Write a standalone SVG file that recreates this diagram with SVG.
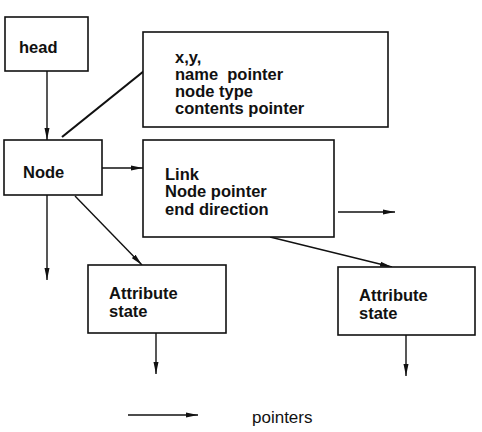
<svg xmlns="http://www.w3.org/2000/svg" width="482" height="432" viewBox="0 0 482 432">
<style>
.box{fill:#fff;stroke:#111;stroke-width:1.6}
.t{font-family:"Liberation Sans",Arial,sans-serif;font-size:16.5px;font-weight:bold;fill:#111}
.r{font-family:"Liberation Sans",Arial,sans-serif;font-size:17px;fill:#111}
.c{stroke:#111;stroke-width:1.4;fill:none}
.a{marker-end:url(#ah)}
</style>
<defs>
<marker id="ah" viewBox="0 0 12 6" refX="12" refY="3" markerWidth="12" markerHeight="6" markerUnits="userSpaceOnUse" orient="auto">
<path d="M0,0.5 L12,3 L0,5.5 Z" fill="#111"/>
</marker>
</defs>
<rect width="482" height="432" fill="#fff"/>
<g id="connectors">
<line class="c a" x1="47" y1="71" x2="47" y2="140"/>
<line class="c" x1="62" y1="137" x2="144" y2="71" style="stroke-width:2.2"/>
<line class="c a" x1="102" y1="168" x2="143" y2="168"/>
<line class="c a" x1="338" y1="212" x2="395" y2="212"/>
<line class="c a" x1="47" y1="195" x2="47" y2="280"/>
<line class="c a" x1="75" y1="196" x2="142" y2="265"/>
<line class="c a" x1="270" y1="237" x2="392" y2="267"/>
<line class="c a" x1="156" y1="333" x2="156" y2="374"/>
<line class="c a" x1="406" y1="335" x2="406" y2="376"/>
<line class="c a" x1="128" y1="415" x2="198" y2="415"/>
</g>
<g id="head">
<rect class="box" x="5" y="17" width="83" height="54"/>
<text class="t" x="19" y="53">head</text>
</g>
<g id="node">
<rect class="box" x="4" y="140" width="98" height="55"/>
<text class="t" x="23" y="178">Node</text>
</g>
<g id="fields">
<rect class="box" x="143" y="32" width="245" height="95"/>
<text class="t" x="175" y="63">x,y,</text>
<text class="t" x="175" y="80">name&#160; pointer</text>
<text class="t" x="175" y="97">node type</text>
<text class="t" x="175" y="114">contents pointer</text>
</g>
<g id="link">
<rect class="box" x="143" y="140" width="191" height="97"/>
<text class="t" x="165" y="180">Link</text>
<text class="t" x="165" y="197">Node pointer</text>
<text class="t" x="165" y="215">end direction</text>
</g>
<g id="attr1">
<rect class="box" x="88" y="265" width="138" height="68"/>
<text class="t" x="109" y="299">Attribute</text>
<text class="t" x="109" y="317">state</text>
</g>
<g id="attr2">
<rect class="box" x="338" y="267" width="137" height="68"/>
<text class="t" x="359" y="301">Attribute</text>
<text class="t" x="359" y="319">state</text>
</g>
<g id="legend">
<text class="r" x="252" y="423">pointers</text>
</g>
</svg>
